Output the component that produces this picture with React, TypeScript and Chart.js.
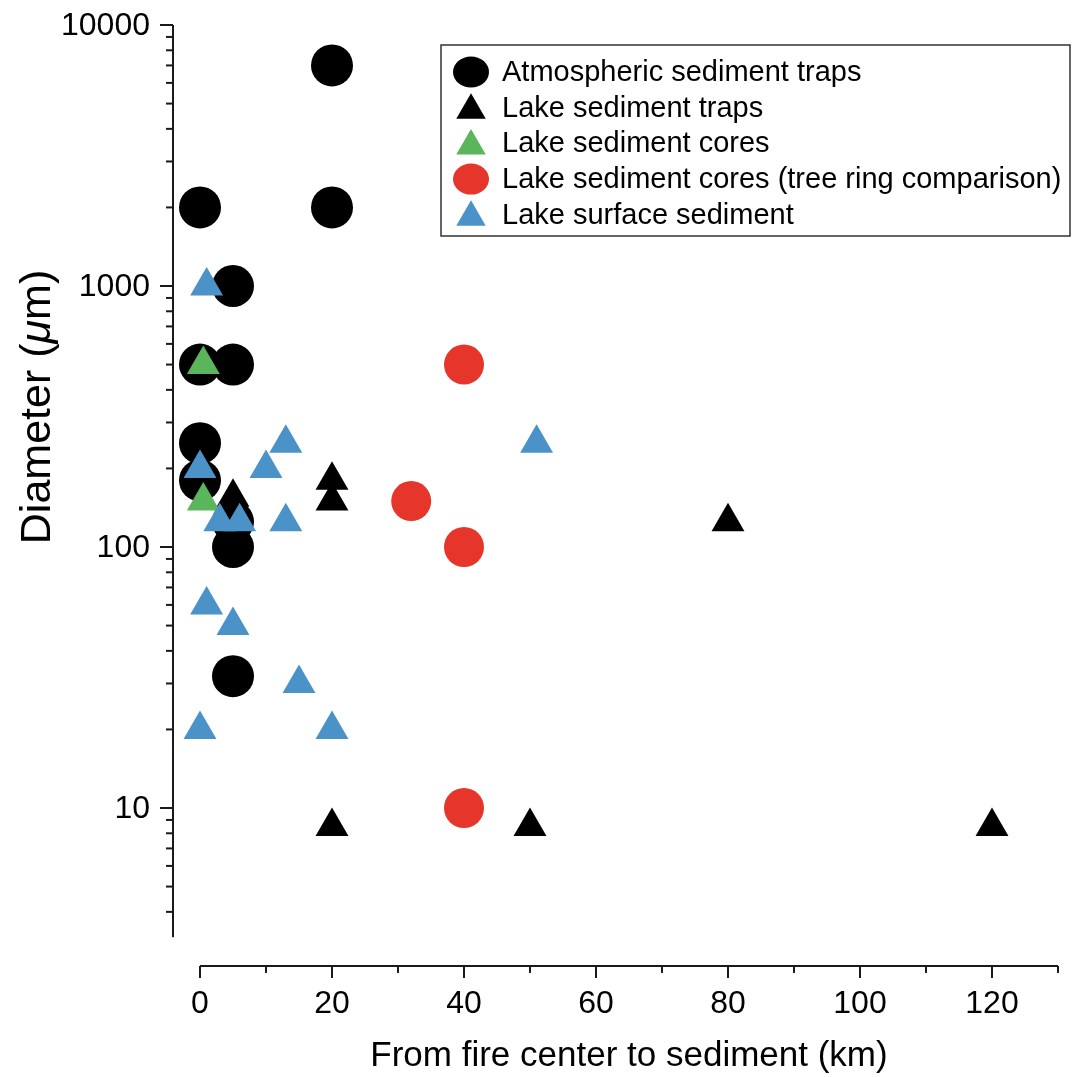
import React, { useEffect, useRef } from 'react';
import { Chart, registerables } from 'chart.js';

Chart.register(...registerables);

// ---- Data (x = distance from fire center, km; y = diameter, µm) ----
const atmTrapsX = [20, 0, 20, 5, 0, 5, 0, 0, 5, 5, 5];
const atmTrapsY = [7000, 2000, 2000, 1000, 500, 500, 250, 180, 125, 100, 32];

const lakeTrapsX = [20, 20, 5, 80, 20, 50, 120];
const lakeTrapsY = [180, 150, 155, 125, 8.5, 8.5, 8.5];

const lakeCoresX = [0.5, 0.5];
const lakeCoresY = [500, 150];

const treeRingX = [40, 32, 40, 40];
const treeRingY = [500, 150, 100, 10];

const surfaceX = [1, 0, 3, 6, 10, 13, 13, 51, 1, 5, 15, 0, 20];
const surfaceY = [1000, 200, 125, 125, 200, 250, 125, 250, 60, 50, 30, 20, 20];

const seriesLabels = [
  'Atmospheric sediment traps',
  'Lake sediment traps',
  'Lake sediment cores',
  'Lake sediment cores (tree ring comparison)',
  'Lake surface sediment',
];
const seriesColors = ['#000000', '#000000', '#5BB55B', '#E6352B', '#4A92C8'];
const seriesShapes = ['circle', 'triangle', 'triangle', 'circle', 'triangle'];

const xMajorTicks = [0, 20, 40, 60, 80, 100, 120];
const xMinorTicks = [10, 30, 50, 70, 90, 110, 130];
const yMajorTicks = [10, 100, 1000, 10000];
const yMajorLabels = ['10', '100', '1000', '10000'];

const xTitle = 'From fire center to sediment (km)';
const yTitleParts = ['Diameter (', 'μ', 'm)'];

const FONT = '"Liberation Sans", Arial, Helvetica, sans-serif';

function pts(xs: number[], ys: number[]) {
  return xs.map((x, i) => ({ x, y: ys[i] }));
}

const axesPlugin = {
  id: 'customAxes',
  afterDraw(chart: any) {
    const ctx = chart.ctx as CanvasRenderingContext2D;
    const xs = chart.scales.x;
    const ys = chart.scales.y;
    const yAxisX = chart.chartArea.left;
    const xAxisY = chart.chartArea.bottom;
    const yLow = 3.2;
    const yHigh = 10000;
    ctx.save();
    ctx.strokeStyle = '#1a1a1a';
    ctx.fillStyle = '#000';
    ctx.lineWidth = 2;

    // y axis line
    ctx.beginPath();
    ctx.moveTo(yAxisX, ys.getPixelForValue(yLow));
    ctx.lineTo(yAxisX, ys.getPixelForValue(yHigh));
    ctx.stroke();
    // y ticks
    for (let dec = 1; dec <= 1000; dec *= 10) {
      for (let m = 1; m <= 9; m++) {
        const v = m * dec;
        if (v < yLow || v > yHigh) continue;
        const p = ys.getPixelForValue(v);
        ctx.beginPath();
        ctx.moveTo(yAxisX, p);
        ctx.lineTo(yAxisX - 7, p);
        ctx.stroke();
      }
    }
    ctx.font = `32px ${FONT}`;
    ctx.textAlign = 'right';
    ctx.textBaseline = 'middle';
    yMajorTicks.forEach((v, i) => {
      const p = ys.getPixelForValue(v);
      ctx.beginPath();
      ctx.moveTo(yAxisX, p);
      ctx.lineTo(yAxisX - 13, p);
      ctx.stroke();
      ctx.fillText(yMajorLabels[i], yAxisX - 23, p + 1);
    });

    // x axis line
    ctx.beginPath();
    ctx.moveTo(xs.getPixelForValue(0), xAxisY);
    ctx.lineTo(xs.getPixelForValue(130), xAxisY);
    ctx.stroke();
    xMinorTicks.forEach((v) => {
      const p = xs.getPixelForValue(v);
      ctx.beginPath();
      ctx.moveTo(p, xAxisY);
      ctx.lineTo(p, xAxisY + 7);
      ctx.stroke();
    });
    ctx.textAlign = 'center';
    ctx.textBaseline = 'alphabetic';
    xMajorTicks.forEach((v) => {
      const p = xs.getPixelForValue(v);
      ctx.beginPath();
      ctx.moveTo(p, xAxisY);
      ctx.lineTo(p, xAxisY + 12);
      ctx.stroke();
      ctx.fillText(String(v), p, 1013);
    });

    // x title
    ctx.font = `35px ${FONT}`;
    ctx.fillText(xTitle, 629, 1066);

    // y title (rotated, italic mu)
    const fonts = [`43px ${FONT}`, `italic 43px ${FONT}`, `43px ${FONT}`];
    const widths = yTitleParts.map((t, i) => {
      ctx.font = fonts[i];
      return ctx.measureText(t).width;
    });
    const total = widths.reduce((a, b) => a + b, 0);
    ctx.translate(50, 407);
    ctx.rotate(-Math.PI / 2);
    ctx.textAlign = 'left';
    let u = -total / 2;
    yTitleParts.forEach((t, i) => {
      ctx.font = fonts[i];
      ctx.fillText(t, u, 0);
      u += widths[i];
    });
    ctx.restore();

    // legend
    ctx.save();
    const bx = 441, by = 45, bw = 629, bh = 191;
    ctx.fillStyle = '#ffffff';
    ctx.fillRect(bx, by, bw, bh);
    ctx.strokeStyle = '#333';
    ctx.lineWidth = 1.5;
    ctx.strokeRect(bx, by, bw, bh);
    ctx.font = `29px ${FONT}`;
    ctx.textAlign = 'left';
    ctx.textBaseline = 'middle';
    seriesLabels.forEach((lab, i) => {
      const cy = 72 + i * 35.7;
      const cx = 471;
      ctx.fillStyle = seriesColors[i];
      ctx.beginPath();
      if (seriesShapes[i] === 'circle') {
        ctx.ellipse(cx, cy, 18, 15.5, 0, 0, Math.PI * 2);
      } else {
        const r = 17;
        ctx.moveTo(cx, cy - r * 0.85);
        ctx.lineTo(cx + r * 0.866, cy + r * 0.65);
        ctx.lineTo(cx - r * 0.866, cy + r * 0.65);
        ctx.closePath();
      }
      ctx.fill();
      ctx.fillStyle = '#000';
      ctx.fillText(lab, 502, cy + 1);
    });
    ctx.restore();
  },
};

export default function App() {
  const ref = useRef<HTMLCanvasElement | null>(null);

  useEffect(() => {
    if (!ref.current) return;
    const mk = (i: number, xs: number[], ys: number[], radius: number, order: number) => ({
      label: seriesLabels[i],
      data: pts(xs, ys),
      pointStyle: seriesShapes[i],
      pointRadius: radius,
      pointHoverRadius: radius,
      backgroundColor: seriesColors[i],
      pointBackgroundColor: seriesColors[i],
      borderWidth: 0,
      pointBorderWidth: 0,
      showLine: false,
      clip: false,
      order,
    });
    const chart = new Chart(ref.current, {
      type: 'scatter',
      data: {
        datasets: [
          mk(0, atmTrapsX, atmTrapsY, 21, 5),
          mk(1, lakeTrapsX, lakeTrapsY, 19, 4),
          mk(2, lakeCoresX, lakeCoresY, 19, 3),
          mk(3, treeRingX, treeRingY, 20, 2),
          mk(4, surfaceX, surfaceY, 19, 1),
        ] as any,
      },
      options: {
        animation: false,
        responsive: false,
        maintainAspectRatio: false,
        devicePixelRatio: 1,
        layout: { padding: { left: 173, right: 27, top: 25, bottom: 111 } },
        scales: {
          x: { type: 'linear', min: 130 - 885 / 6.6, max: 130, display: false },
          y: { type: 'logarithmic', min: Math.pow(10, 4 - 941 / 261), max: 10000, display: false },
        },
        plugins: {
          legend: { display: false },
          tooltip: { enabled: false },
        },
      },
      plugins: [axesPlugin],
    });
    return () => chart.destroy();
  }, []);

  return (
    <div style={{ position: 'fixed', left: 0, top: 0, width: 1085, height: 1077, background: '#fff' }}>
      <canvas ref={ref} width={1085} height={1077} style={{ display: 'block' }} />
    </div>
  );
}
